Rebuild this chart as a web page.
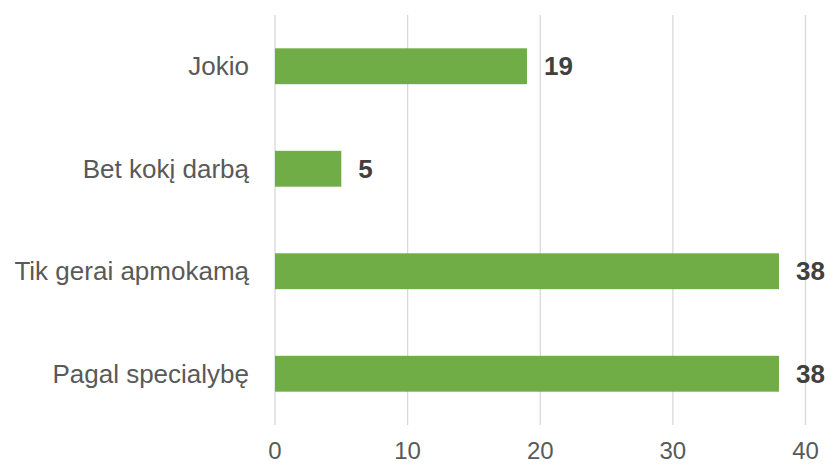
<!DOCTYPE html>
<html>
<head>
<meta charset="utf-8">
<script src="https://cdn.jsdelivr.net/npm/d3@7"></script>
<style>
  body { margin: 0; background: #fff; }
  text { font-family: "Liberation Sans", Arial, sans-serif; }
</style>
</head>
<body>
<div id="chart"></div>
<script>
const categories = ["Jokio", "Bet kokį darbą", "Tik gerai apmokamą", "Pagal specialybę"];
const values = [19, 5, 38, 38];
const ticks = [0, 10, 20, 30, 40];

const width = 831;
const height = 464;
const margin = { top: 15, right: 25, bottom: 39, left: 275 };

const svg = d3
  .select("#chart")
  .append("svg")
  .attr("width", width)
  .attr("height", height);

const x = d3
  .scaleLinear()
  .domain([0, 40])
  .range([margin.left, 805.5]);

const y = d3
  .scaleBand()
  .domain(categories)
  .range([margin.top, height - margin.bottom])
  .paddingInner(0.65)
  .paddingOuter(0.325);

// gridlines
svg
  .append("g")
  .selectAll("line")
  .data(ticks)
  .enter()
  .append("line")
  .attr("x1", (d) => x(d))
  .attr("x2", (d) => x(d))
  .attr("y1", margin.top)
  .attr("y2", height - margin.bottom)
  .attr("stroke", "#d9d9d9")
  .attr("stroke-width", 1.3);

// tick labels
svg
  .append("g")
  .selectAll("text")
  .data(ticks)
  .enter()
  .append("text")
  .attr("x", (d) => x(d))
  .attr("y", 459)
  .attr("text-anchor", "middle")
  .style("font-size", "24px")
  .style("fill", "#595959")
  .text((d) => d);

// bars
svg
  .append("g")
  .selectAll("rect")
  .data(values)
  .enter()
  .append("rect")
  .attr("x", x(0))
  .attr("y", (d, i) => y(categories[i]))
  .attr("width", (d) => x(d) - x(0))
  .attr("height", y.bandwidth())
  .attr("fill", "#70ad47");

// category labels
svg
  .append("g")
  .selectAll("text")
  .data(categories)
  .enter()
  .append("text")
  .attr("x", 249)
  .attr("y", (d) => y(d) + y.bandwidth() / 2)
  .attr("dy", "0.35em")
  .attr("text-anchor", "end")
  .style("font-size", "26px")
  .style("fill", "#595959")
  .text((d) => d);

// value labels
svg
  .append("g")
  .selectAll("text")
  .data(values)
  .enter()
  .append("text")
  .attr("x", (d) => x(d) + 17)
  .attr("y", (d, i) => y(categories[i]) + y.bandwidth() / 2)
  .attr("dy", "0.35em")
  .style("font-size", "26px")
  .style("font-weight", "bold")
  .style("fill", "#404040")
  .text((d) => d);
</script>
</body>
</html>
